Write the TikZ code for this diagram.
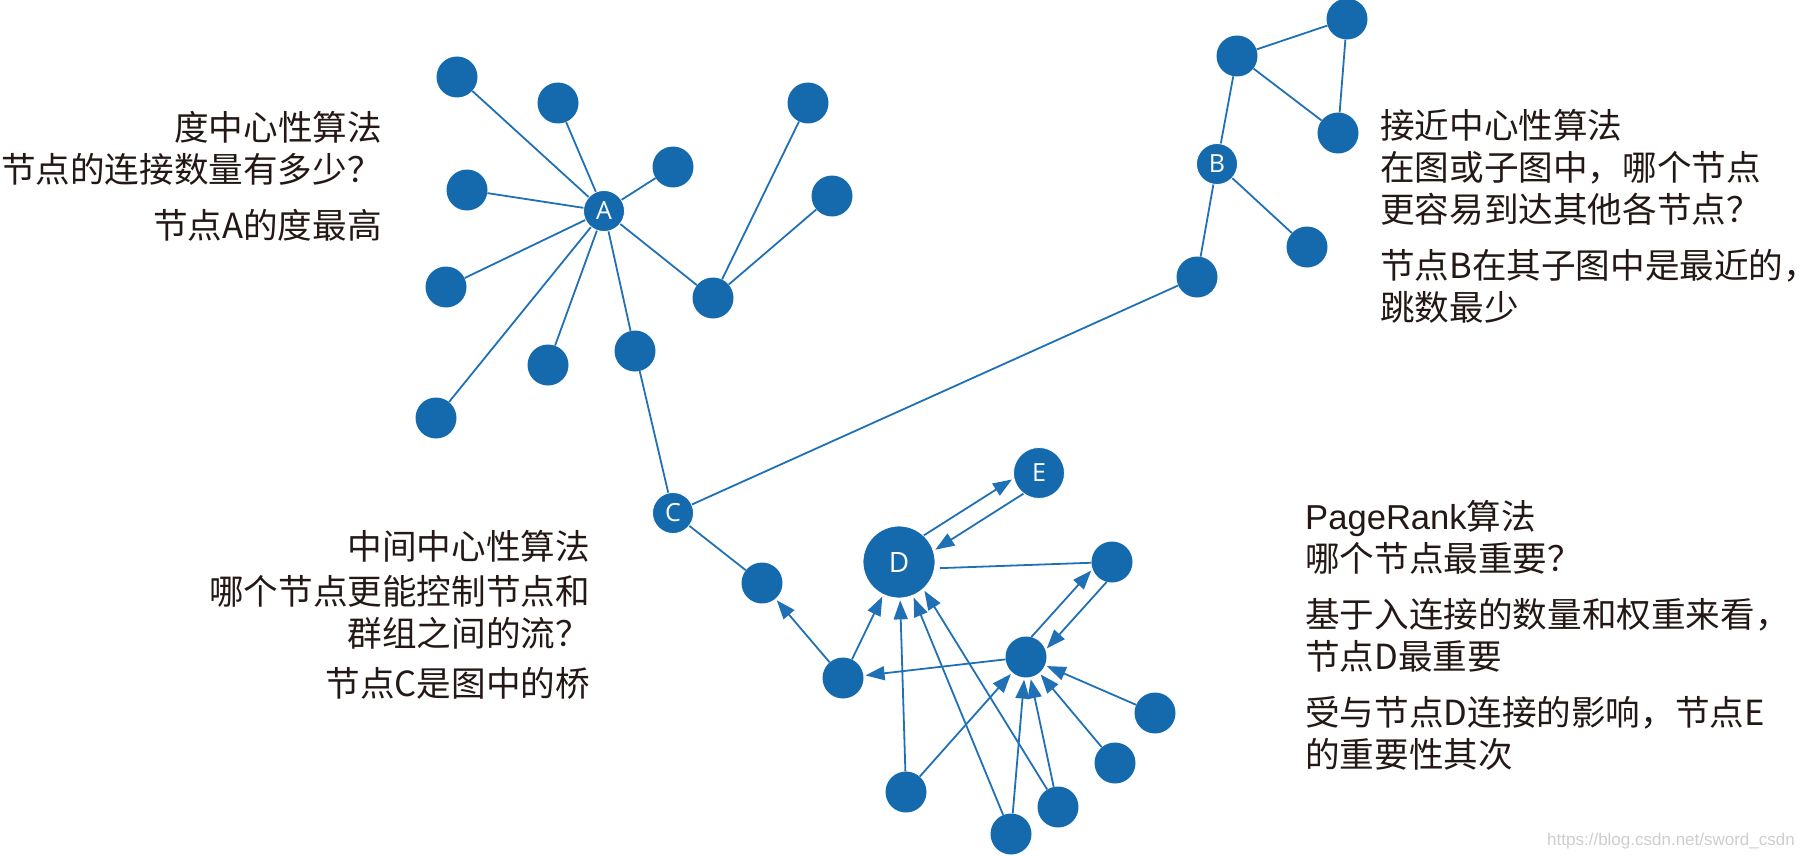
\documentclass[tikz,border=0pt]{standalone}
\usepackage{fontspec}
\setmainfont{Noto Sans CJK SC}
\newfontfamily\labelfont{Open Sans}
\newfontfamily\latinsans{Liberation Sans}
\usetikzlibrary{arrows.meta}

\begin{document}
\begin{tikzpicture}[x=1pt, y=-1pt,
	vertex/.style={circle, fill={rgb,255:red,21;green,106;blue,174}, minimum size=41pt, inner sep=0pt},
	named/.style={vertex, draw=white, line width=0.8pt, text=white, font=\labelfont\fontsize{25}{25}\selectfont},
	edge/.style={draw={rgb,255:red,32;green,112;blue,182}, line width=1.8pt},
	arr/.style={edge, -{Triangle[length=19pt, width=14pt]}, shorten >=2pt},
	note/.style={inner sep=0pt, text={rgb,255:red,35;green,24;blue,21}, font=\fontsize{34.6}{42}\selectfont}]
	\useasboundingbox (0, 0) rectangle (1803, 856);
	\node[named] (A) at (604, 211) {A};
	\node[vertex] (a1) at (457, 77) {};
	\node[vertex] (a2) at (558, 103) {};
	\node[vertex] (a3) at (673, 167) {};
	\node[vertex] (a4) at (467, 190) {};
	\node[vertex] (a5) at (446, 287) {};
	\node[vertex] (a6) at (548, 365) {};
	\node[vertex] (a7) at (635, 351) {};
	\node[vertex] (a8) at (436, 418) {};
	\node[vertex] (a9) at (713, 298) {};
	\node[vertex] (a10) at (808, 103) {};
	\node[vertex] (a11) at (832, 196) {};
	\node[named] (C) at (673, 513) {C};
	\node[vertex] (c1) at (762, 583) {};
	\node[vertex] (b0) at (1197, 277) {};
	\node[named] (B) at (1217, 164) {B};
	\node[vertex] (b1) at (1237, 56) {};
	\node[vertex] (b2) at (1347, 19) {};
	\node[vertex] (b3) at (1338, 133) {};
	\node[vertex] (b4) at (1307, 247) {};
	\node[named, minimum size=72pt, font=\labelfont\fontsize{28}{28}\selectfont] (D) at (899, 562) {D};
	\node[named, minimum size=51pt] (E) at (1039, 473) {E};
	\node[vertex] (R) at (1112, 562) {};
	\node[vertex] (hub) at (1026, 657) {};
	\node[vertex] (L) at (843, 678) {};
	\node[vertex] (p1) at (906, 792) {};
	\node[vertex] (p2) at (1011, 834) {};
	\node[vertex] (p3) at (1058, 807) {};
	\node[vertex] (p4) at (1115, 763) {};
	\node[vertex] (p5) at (1155, 713) {};
	\draw[edge] (A) -- (a1);
	\draw[edge] (A) -- (a2);
	\draw[edge] (A) -- (a3);
	\draw[edge] (A) -- (a4);
	\draw[edge] (A) -- (a5);
	\draw[edge] (A) -- (a6);
	\draw[edge] (A) -- (a7);
	\draw[edge] (A) -- (a8);
	\draw[edge] (A) -- (a9);
	\draw[edge] (a9) -- (a10);
	\draw[edge] (a9) -- (a11);
	\draw[edge] (a7) -- (C);
	\draw[edge] (C) -- (c1);
	\draw[edge] (C) -- (b0);
	\draw[edge] (b0) -- (B);
	\draw[edge] (B) -- (b1);
	\draw[edge] (B) -- (b4);
	\draw[edge] (b1) -- (b2);
	\draw[edge] (b1) -- (b3);
	\draw[edge] (b2) -- (b3);
	\draw[arr] (L) -- (c1);
	\draw[arr] (L) -- (D);
	\draw[arr] (hub) -- (L);
	\draw[arr] (D.47) -- (E.192);
	\draw[arr] (E.233) -- (D.18);
	\draw[edge, shorten >=5pt] (R) -- (D.-10);
	\draw[arr] (hub.75) -- (R.200);
	\draw[arr] (R.255) -- (hub.20);
	\draw[arr] (p1) -- (D);
	\draw[arr] (p1) -- (hub);
	\draw[arr] (p2) -- (D);
	\draw[arr] (p2) -- (hub);
	\draw[arr] (p3) -- (D.-48);
	\draw[arr] (p3) -- (hub);
	\draw[arr] (p4) -- (hub);
	\draw[arr] (p5) -- (hub);
	\node[note, anchor=base east, align=right] (degree) at (382, 238) {度中心性算法\\节点的连接数量有多少？\\[14pt]节点A的度最高};
	\node[note, anchor=base west, align=left] (closeness) at (1380, 320) {接近中心性算法\\在图或子图中，哪个节点\\更容易到达其他各节点？\\[14pt]节点B在其子图中是最近的\makebox[8pt][l]{，}\\跳数最少};
	\node[note, anchor=base east, align=right] (between) at (590, 696) {中间中心性算法\\[3pt]哪个节点更能控制节点和\\群组之间的流？\\[8pt]节点C是图中的桥};
	\node[note, anchor=base west, align=left] (pagerank) at (1305, 767) {{\latinsans PageRank}算法\\哪个节点最重要？\\[14pt]基于入连接的数量和权重来看，\\节点D最重要\\[14pt]受与节点D连接的影响，节点E\\的重要性其次};
	\node[anchor=base east, inner sep=0pt, text={rgb,255:red,205;green,205;blue,205}, font=\latinsans\fontsize{17}{17}\selectfont] (mark) at (1795, 845) {https://blog.csdn.net/sword\_csdn};
\end{tikzpicture}
\end{document}
